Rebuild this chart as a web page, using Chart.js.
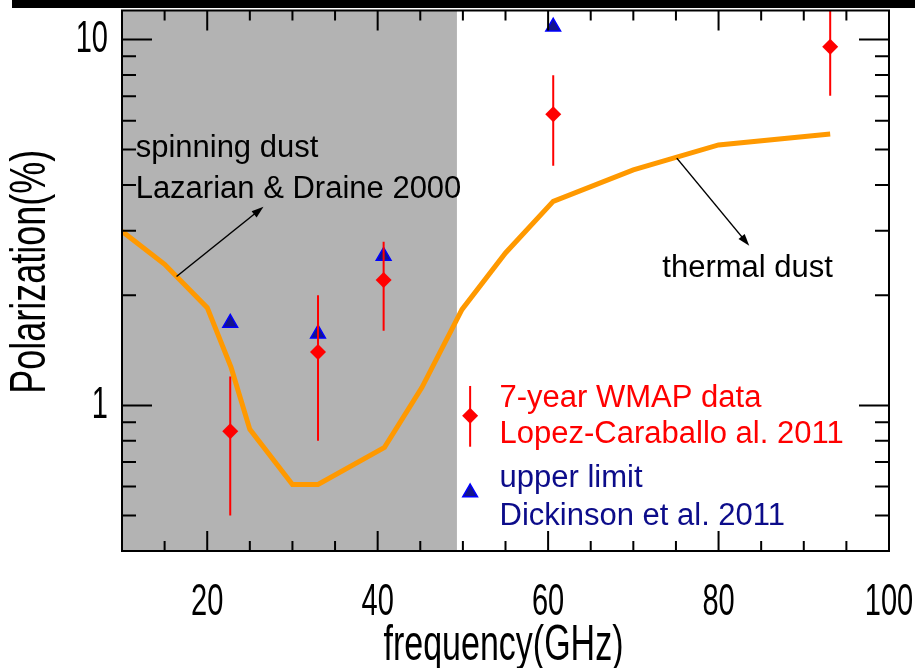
<!DOCTYPE html>
<html>
<head>
<meta charset="utf-8">
<script src="https://cdn.jsdelivr.net/npm/chart.js@4.4.0/dist/chart.umd.min.js"></script>
<style>
  html, body { margin: 0; padding: 0; background: #fff; }
  #wrap { position: relative; width: 915px; height: 668px; }
</style>
</head>
<body>
<div id="wrap"><canvas id="chart" width="915" height="668"></canvas></div>
<script>
// thermal dust model (orange curve)
const modelFreq = [10, 15, 20, 22.8, 25, 30, 33, 40.8, 45.2, 49.9, 55, 60.6, 70, 80, 93.1]
const modelPol = [2.99, 2.43, 1.85, 1.27, 0.86, 0.608, 0.608, 0.768, 1.12, 1.83, 2.61, 3.61, 4.40, 5.15, 5.52]

// 7-year WMAP data, Lopez-Caraballo et al. 2011
const wmapFreq = [22.7, 33.0, 40.7, 60.6, 93.1]
const wmapPol = [0.85, 1.40, 2.20, 6.25, 9.55]
const wmapLow = [0.50, 0.80, 1.60, 4.52, 7.02]
const wmapHigh = [1.20, 2.00, 2.80, 7.99, 12.1]

// upper limits, Dickinson et al. 2011
const limitFreq = [22.7, 33.0, 40.7, 60.6]
const limitPol = [1.68, 1.57, 2.56, 10.83]

// axes
const xLabelTicks = [20, 40, 60, 80, 100]
const xMajorTicks = [20, 40, 60, 80]
const xMinorTicks = [15, 25, 30, 35, 45, 50, 55, 65, 70, 75, 85, 90, 95]
const yLabelTicks = [1, 10]
const yMinorTicks = [0.5, 0.6, 0.7, 0.8, 0.9, 2, 3, 4, 5, 6, 7, 8, 9]

// spinning dust dominated band (GHz)
const spinBand = [10, 49.3]

// annotation anchors in data units
const spinText = ['spinning dust', 'Lazarian & Draine 2000']
const spinTextAt = { x: 11.6, y: [4.76, 3.69] }
const spinArrow = { from: [16.4, 2.25], to: [26.6, 3.49] }
const thermalText = 'thermal dust'
const thermalTextAt = { x: 73.4, y: 2.24 }
const thermalArrow = { from: [75.1, 4.74], to: [83.6, 2.73] }

const legendSymX = 50.85
const legendTextX = 54.3
const legendRows = [
  { text: '7-year WMAP data', y: 0.992, color: '#ff0000' },
  { text: 'Lopez-Caraballo al. 2011', y: 0.789, color: '#ff0000' },
  { text: 'upper limit', y: 0.598, color: '#0c0c8a' },
  { text: 'Dickinson et al. 2011', y: 0.47, color: '#0c0c8a' }
]

const family = '"Liberation Sans", Arial, sans-serif'
const textFont = '31px ' + family
// axis text in the original is a tall, narrow face
const tickSize = 44
const tickStretch = 0.66
const xTitleSize = 50
const xTitleStretch = 0.68
const yTitleSize = 50
const yTitleStretch = 0.72

const toXY = (xs, ys) => xs.map((x, i) => ({ x: x, y: ys[i] }))

function diamond(ctx, x, y, r) {
  ctx.beginPath()
  ctx.moveTo(x, y - r)
  ctx.lineTo(x + r, y)
  ctx.lineTo(x, y + r)
  ctx.lineTo(x - r, y)
  ctx.closePath()
  ctx.fill()
}

function triangle(ctx, x, y, r) {
  ctx.beginPath()
  ctx.moveTo(x, y - r)
  ctx.lineTo(x + r * 0.866, y + r / 2)
  ctx.lineTo(x - r * 0.866, y + r / 2)
  ctx.closePath()
  ctx.fill()
  ctx.stroke()
}

function arrow(ctx, x1, y1, x2, y2) {
  const ang = Math.atan2(y2 - y1, x2 - x1)
  const len = 12, half = 4
  ctx.beginPath()
  ctx.moveTo(x1, y1)
  ctx.lineTo(x2 - Math.cos(ang) * len * 0.8, y2 - Math.sin(ang) * len * 0.8)
  ctx.stroke()
  ctx.beginPath()
  ctx.moveTo(x2, y2)
  ctx.lineTo(x2 - Math.cos(ang) * len - Math.sin(ang) * half, y2 - Math.sin(ang) * len + Math.cos(ang) * half)
  ctx.lineTo(x2 - Math.cos(ang) * len + Math.sin(ang) * half, y2 - Math.sin(ang) * len - Math.cos(ang) * half)
  ctx.closePath()
  ctx.fill()
}

function axisText(ctx, text, x, y, size, stretch, align, rot) {
  ctx.save()
  ctx.translate(x, y)
  if (rot) ctx.rotate(rot)
  ctx.scale(stretch, 1)
  ctx.font = size + 'px ' + family
  ctx.textAlign = align
  ctx.textBaseline = 'middle'
  ctx.fillStyle = '#000'
  ctx.fillText(text, 0, 0)
  ctx.restore()
}

const idlFrame = {
  id: 'idlFrame',
  beforeDraw(chart) {
    const ctx = chart.ctx
    ctx.save()
    ctx.fillStyle = '#000'
    ctx.fillRect(12, 0, chart.width - 12, 8)
    ctx.restore()
  },
  beforeDatasetsDraw(chart) {
    const { ctx, chartArea, scales } = chart
    const x0 = scales.x.getPixelForValue(spinBand[0])
    const x1 = scales.x.getPixelForValue(spinBand[1])
    ctx.save()
    ctx.fillStyle = '#b3b3b3'
    ctx.fillRect(x0, chartArea.top, x1 - x0, chartArea.bottom - chartArea.top)
    ctx.restore()
  },
  afterDatasetsDraw(chart) {
    const { ctx, chartArea, scales } = chart
    ctx.save()
    ctx.beginPath()
    ctx.rect(chartArea.left, chartArea.top, chartArea.right - chartArea.left, chartArea.bottom - chartArea.top)
    ctx.clip()
    ctx.strokeStyle = '#ff0000'
    ctx.lineWidth = 2
    wmapFreq.forEach((f, i) => {
      const px = scales.x.getPixelForValue(f)
      ctx.beginPath()
      ctx.moveTo(px, scales.y.getPixelForValue(wmapLow[i]))
      ctx.lineTo(px, scales.y.getPixelForValue(wmapHigh[i]))
      ctx.stroke()
    })
    ctx.restore()
  },
  afterDraw(chart) {
    const { ctx, chartArea: a, scales } = chart
    const sx = v => scales.x.getPixelForValue(v)
    const sy = v => scales.y.getPixelForValue(v)
    ctx.save()
    ctx.strokeStyle = '#000'
    ctx.lineWidth = 2
    ctx.strokeRect(a.left, a.top, a.right - a.left, a.bottom - a.top)

    // inward ticks on all four sides
    ctx.beginPath()
    const xTick = (v, len) => {
      const p = sx(v)
      ctx.moveTo(p, a.bottom); ctx.lineTo(p, a.bottom - len)
      ctx.moveTo(p, a.top); ctx.lineTo(p, a.top + len)
    }
    const yTick = (v, len) => {
      const p = sy(v)
      ctx.moveTo(a.left, p); ctx.lineTo(a.left + len, p)
      ctx.moveTo(a.right, p); ctx.lineTo(a.right - len, p)
    }
    xMajorTicks.forEach(v => xTick(v, 20))
    xMinorTicks.forEach(v => xTick(v, 10))
    yLabelTicks.forEach(v => yTick(v, 30))
    yMinorTicks.forEach(v => yTick(v, 14))
    ctx.stroke()

    // tick labels and axis titles from the scales
    const lab = t => t.label != null ? String(t.label) : String(t.value)
    scales.x.ticks.forEach(t => axisText(ctx, lab(t), sx(t.value), a.bottom + 52, tickSize, tickStretch, 'center'))
    scales.y.ticks.forEach(t => axisText(ctx, lab(t), a.left - 14, sy(t.value), tickSize, tickStretch, 'right'))
    axisText(ctx, scales.x.options.title.text, (a.left + a.right) / 2 - 2, a.bottom + 95, xTitleSize, xTitleStretch, 'center')
    axisText(ctx, scales.y.options.title.text, 31, (a.top + a.bottom) / 2 - 9, yTitleSize, yTitleStretch, 'center', -Math.PI / 2)

    // annotations
    ctx.font = textFont
    ctx.textBaseline = 'alphabetic'
    ctx.textAlign = 'left'
    ctx.fillStyle = '#000'
    spinText.forEach((t, i) => ctx.fillText(t, sx(spinTextAt.x), sy(spinTextAt.y[i])))
    ctx.fillText(thermalText, sx(thermalTextAt.x), sy(thermalTextAt.y))
    ctx.lineWidth = 1.5
    arrow(ctx, sx(spinArrow.from[0]), sy(spinArrow.from[1]), sx(spinArrow.to[0]), sy(spinArrow.to[1]))
    arrow(ctx, sx(thermalArrow.from[0]), sy(thermalArrow.from[1]), sx(thermalArrow.to[0]), sy(thermalArrow.to[1]))

    // legend
    const lx = sx(legendSymX)
    ctx.strokeStyle = '#ff0000'
    ctx.lineWidth = 2
    ctx.beginPath()
    ctx.moveTo(lx, sy(1.13))
    ctx.lineTo(lx, sy(0.771))
    ctx.stroke()
    ctx.fillStyle = '#ff0000'
    diamond(ctx, lx, sy(0.937), 8)
    ctx.fillStyle = '#14148c'
    ctx.strokeStyle = '#0000ff'
    ctx.lineWidth = 1.5
    triangle(ctx, lx, sy(0.578), 8.5)
    legendRows.forEach(r => {
      ctx.fillStyle = r.color
      ctx.fillText(r.text, sx(legendTextX), sy(r.y))
    })
    ctx.restore()
  }
}

const zeroPad = s => { s.paddingLeft = 0; s.paddingRight = 0; s.paddingTop = 0; s.paddingBottom = 0 }

new Chart(document.getElementById('chart'), {
  type: 'line',
  data: {
    datasets: [
      {
        label: 'thermal dust',
        data: toXY(modelFreq, modelPol),
        borderColor: '#ff9900',
        borderWidth: 5,
        pointRadius: 0,
        fill: false,
        tension: 0,
        order: 3
      },
      {
        label: 'upper limit',
        type: 'scatter',
        data: toXY(limitFreq, limitPol),
        pointStyle: 'triangle',
        pointRadius: 8.5,
        backgroundColor: '#14148c',
        borderColor: '#0000ff',
        borderWidth: 1.5,
        order: 2
      },
      {
        label: '7-year WMAP data',
        type: 'scatter',
        data: toXY(wmapFreq, wmapPol),
        pointStyle: 'rectRot',
        pointRadius: 8,
        backgroundColor: '#ff0000',
        borderColor: '#ff0000',
        borderWidth: 0,
        order: 1
      }
    ]
  },
  options: {
    responsive: false,
    animation: false,
    events: [],
    layout: { padding: { top: 10.5, right: 26, left: 0, bottom: 0 } },
    plugins: { legend: { display: false }, tooltip: { enabled: false } },
    scales: {
      x: {
        type: 'linear',
        min: 10,
        max: 100,
        grid: { display: false, drawTicks: false },
        border: { display: false },
        afterBuildTicks: s => { s.ticks = xLabelTicks.map(v => ({ value: v })) },
        ticks: { display: false },
        title: { display: false, text: 'frequency(GHz)' },
        afterFit: s => { s.height = 117; zeroPad(s) }
      },
      y: {
        type: 'logarithmic',
        min: 0.4,
        max: 12,
        grid: { display: false, drawTicks: false },
        border: { display: false },
        afterBuildTicks: s => { s.ticks = yLabelTicks.map(v => ({ value: v })) },
        ticks: { display: false, callback: v => String(v) },
        title: { display: false, text: 'Polarization(%)' },
        afterFit: s => { s.width = 122; zeroPad(s) }
      }
    }
  },
  plugins: [idlFrame]
})
</script>
</body>
</html>
